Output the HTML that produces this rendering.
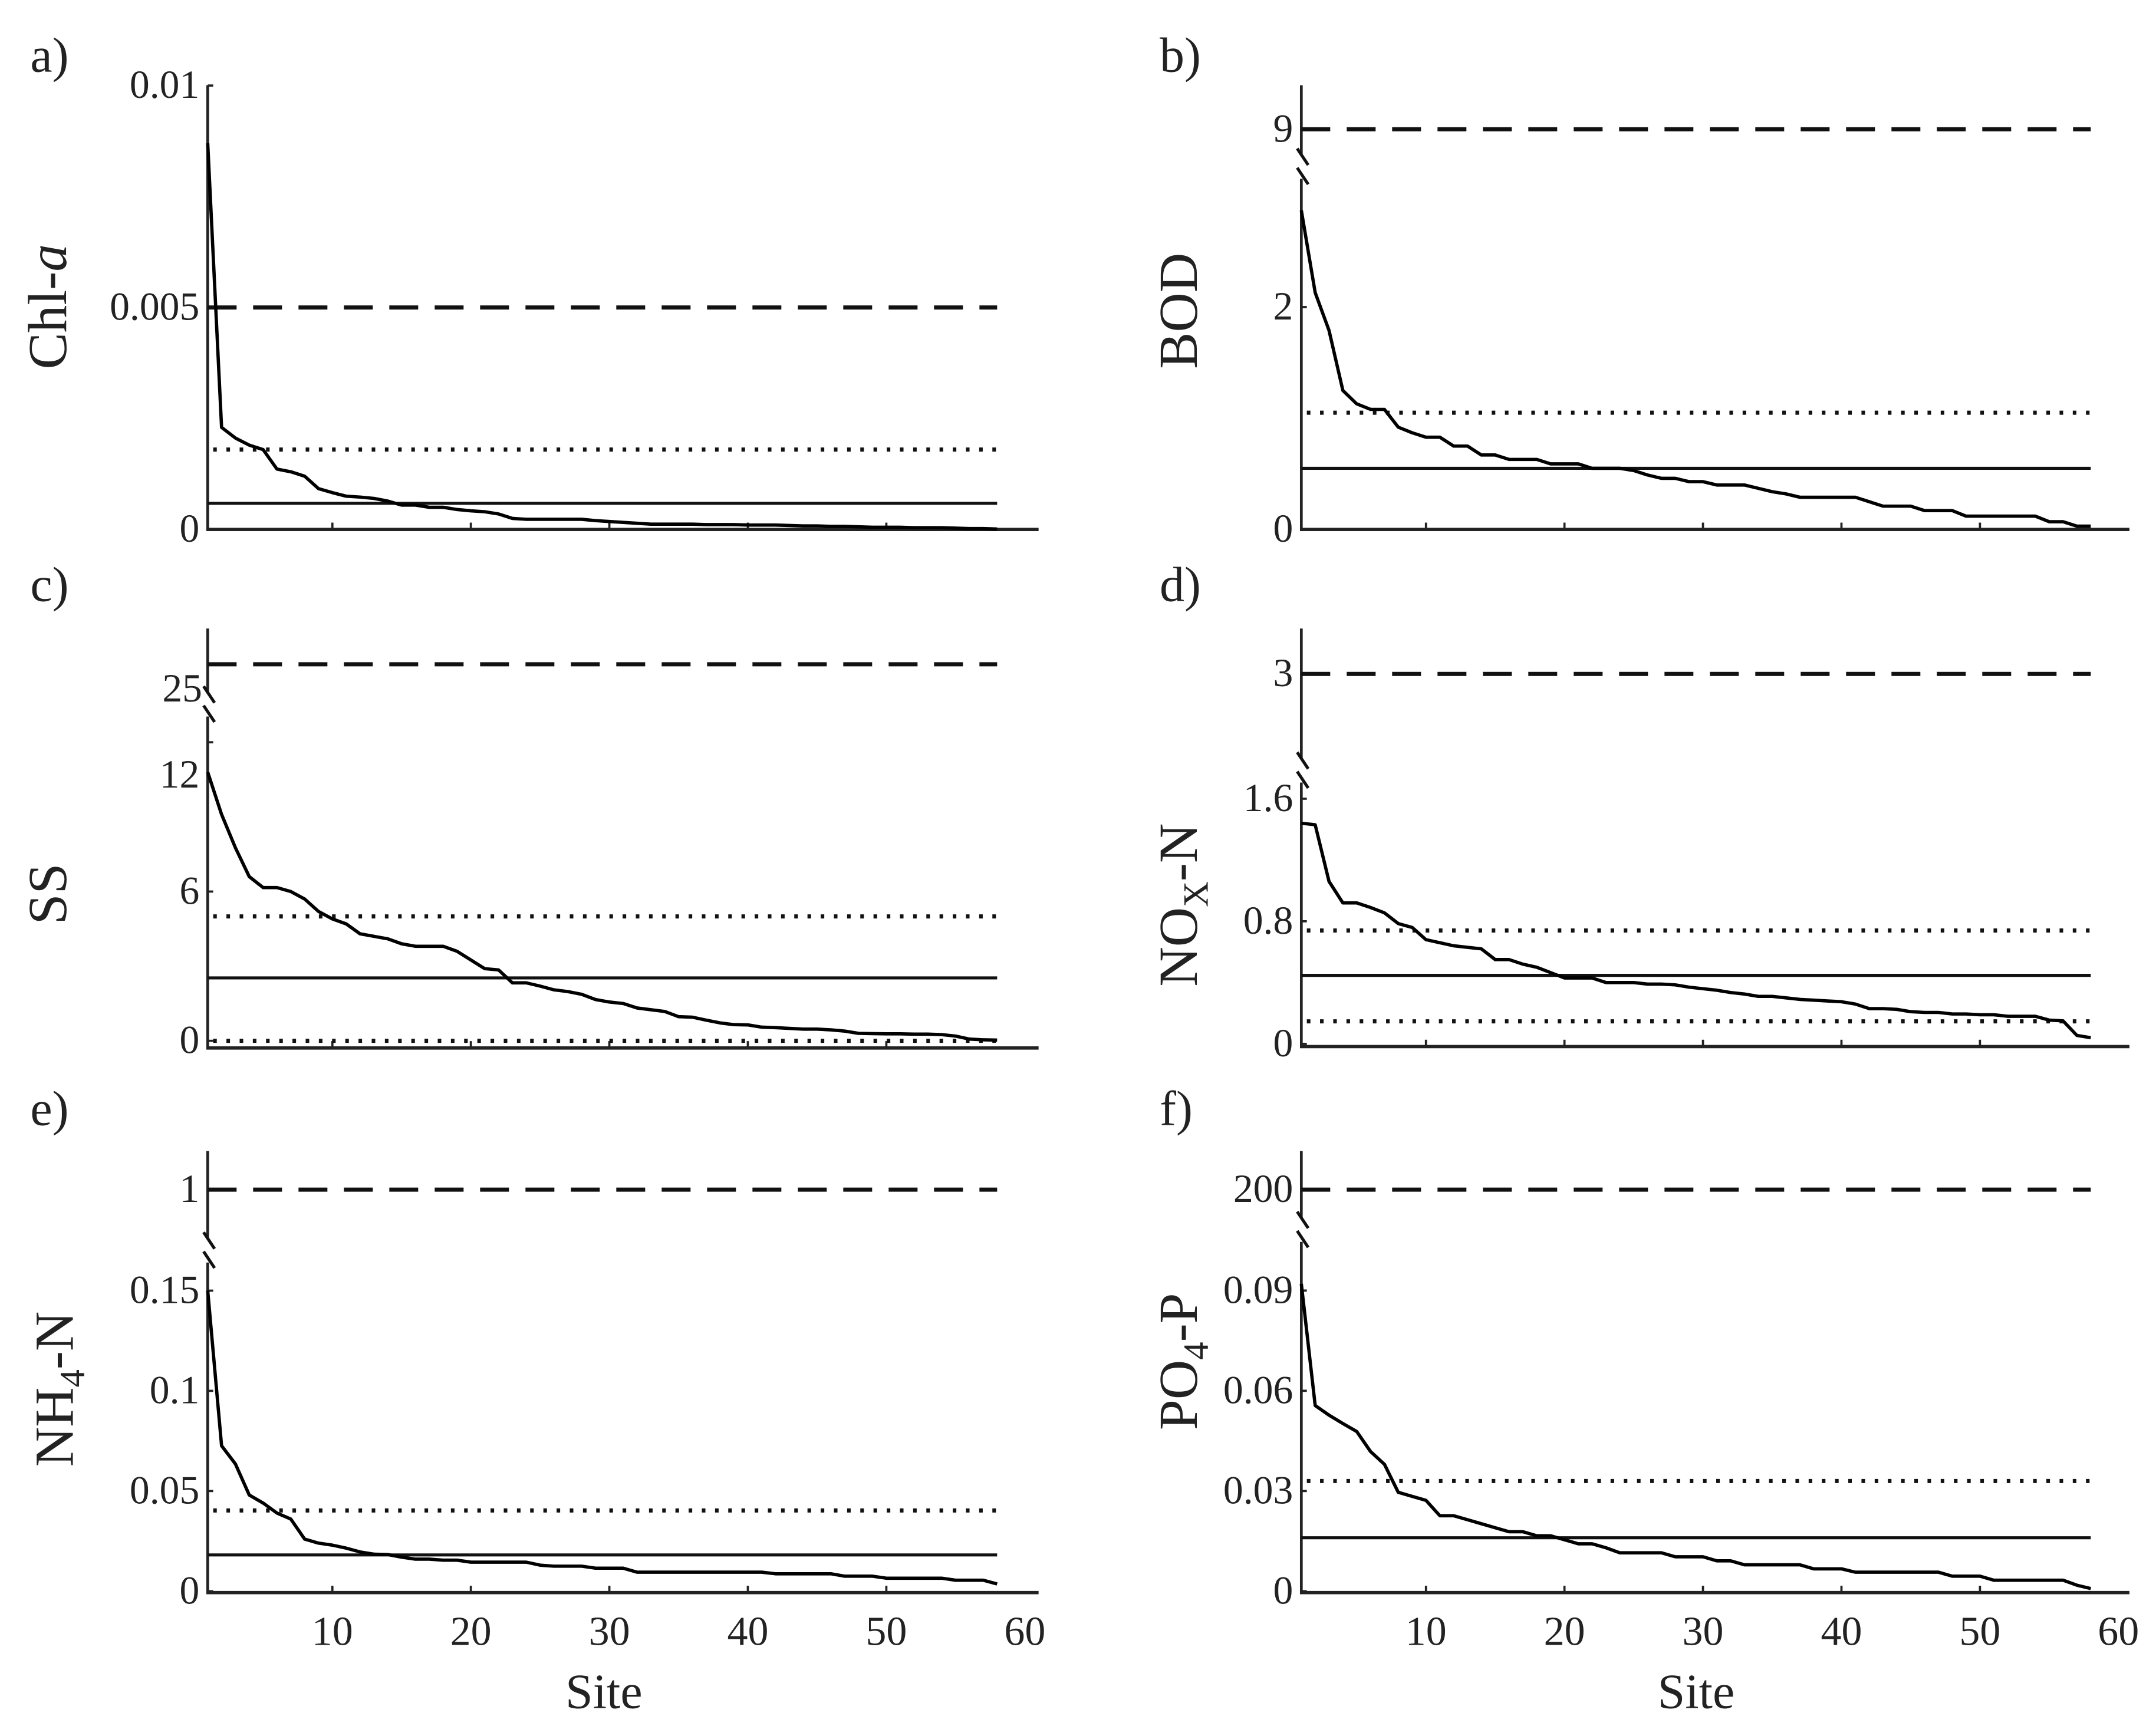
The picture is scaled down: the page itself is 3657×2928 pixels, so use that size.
<!DOCTYPE html>
<html><head><meta charset="utf-8"><style>
html,body{margin:0;padding:0;background:#fff;}
svg{display:block;}
text{font-family:"Liberation Serif",serif;fill:#222;}
</style></head><body>
<svg id="fig" xmlns="http://www.w3.org/2000/svg" width="3657" height="2928" viewBox="0 0 1567.3 1255" preserveAspectRatio="none">
<rect width="1567.3" height="1255" fill="#fff"/>
</svg>
<script>
const sites = Array.from({length:58},(_,i)=>i+1);
const xTicks = [10,20,30,40,50];
const xTickLabels = ["10","20","30","40","50","60"];
const chlValues = [0.0087,0.0023,0.00206,0.0019,0.0018,0.00136,0.0013,0.0012,0.00092,0.00083,0.00075,0.00073,0.0007,0.00064,0.00055,0.00055,0.0005,0.0005,0.00045,0.00042,0.0004,0.00035,0.00025,0.00023,0.00023,0.00023,0.00023,0.00023,0.0002,0.00018,0.00016,0.00014,0.00012,0.00012,0.00012,0.00012,0.00011,0.00011,0.00011,0.0001,0.0001,0.0001,0.00009,0.00008,0.00008,0.00007,0.00007,0.00006,0.00005,0.00005,0.00005,0.00004,0.00004,0.00004,0.00003,0.00002,0.00002,0.00001];
const bodValues = [2.87,2.13,1.79,1.25,1.13,1.08,1.08,0.92,0.87,0.83,0.83,0.75,0.75,0.67,0.67,0.63,0.63,0.63,0.59,0.59,0.59,0.55,0.55,0.55,0.53,0.49,0.46,0.46,0.43,0.43,0.40,0.40,0.40,0.37,0.34,0.32,0.29,0.29,0.29,0.29,0.29,0.25,0.21,0.21,0.21,0.17,0.17,0.17,0.12,0.12,0.12,0.12,0.12,0.12,0.07,0.07,0.03,0.03];
const ssValues = [10.8,9.1,7.76,6.6,6.16,6.16,6.0,5.7,5.2,4.9,4.7,4.3,4.2,4.1,3.9,3.8,3.8,3.8,3.6,3.25,2.9,2.85,2.33,2.33,2.2,2.05,1.98,1.87,1.66,1.56,1.5,1.32,1.25,1.18,0.97,0.95,0.83,0.72,0.65,0.64,0.55,0.53,0.5,0.47,0.47,0.44,0.39,0.3,0.29,0.28,0.28,0.27,0.27,0.25,0.19,0.07,0.04,0.03];
const noxValues = [1.44,1.43,1.06,0.92,0.92,0.89,0.855,0.785,0.76,0.68,0.66,0.64,0.63,0.62,0.55,0.55,0.52,0.5,0.465,0.43,0.43,0.43,0.4,0.4,0.4,0.39,0.39,0.385,0.37,0.36,0.35,0.335,0.325,0.31,0.31,0.3,0.29,0.285,0.28,0.275,0.26,0.23,0.23,0.225,0.21,0.205,0.205,0.195,0.195,0.19,0.19,0.18,0.18,0.18,0.155,0.15,0.055,0.04];
const nh4Values = [0.15,0.0726,0.0635,0.048,0.044,0.039,0.036,0.026,0.024,0.023,0.0215,0.0196,0.0185,0.0183,0.017,0.016,0.016,0.0155,0.0155,0.0145,0.0145,0.0145,0.0145,0.0145,0.013,0.0125,0.0125,0.0125,0.0115,0.0115,0.0115,0.0095,0.0095,0.0095,0.0095,0.0095,0.0095,0.0095,0.0095,0.0095,0.0095,0.0087,0.0087,0.0087,0.0087,0.0087,0.0075,0.0075,0.0075,0.0065,0.0065,0.0065,0.0065,0.0065,0.0055,0.0055,0.0055,0.0036];
const po4Values = [0.092,0.0556,0.0527,0.0502,0.0478,0.0418,0.038,0.0296,0.0284,0.0272,0.0226,0.0226,0.0214,0.0202,0.019,0.0178,0.0178,0.0166,0.0166,0.0154,0.0142,0.0142,0.013,0.0115,0.0115,0.0115,0.0115,0.0103,0.0103,0.0103,0.0091,0.0091,0.0079,0.0079,0.0079,0.0079,0.0079,0.0067,0.0067,0.0067,0.0057,0.0057,0.0057,0.0057,0.0057,0.0057,0.0057,0.0045,0.0045,0.0045,0.0033,0.0033,0.0033,0.0033,0.0033,0.0033,0.0018,0.0008];
const dashedValues = [0.005, 9, 26.5, 3, 1, 200];
const dottedValues = [0.0018, 1.05, 5.0, 0.74, 0.0403, 0.033];
const dottedLowValues = [null, null, 0, 0.147, null, null];
const solidValues = [0.00059, 0.55, 2.53, 0.447, 0.0181, 0.016];
const aTicks=[0,0.005,0.01], aTickLabels=["0","0.005","0.01"];
const bTicks=[0,2,9], bTickLabels=["0","2","9"];
const cTicks=[0,6,12], cTickLabels=["0","6","12"];
const dTicks=[0,0.8,1.6,3], dTickLabels=["0","0.8","1.6","3"];
const eTicks=[0,0.05,0.1,0.15,1], eTickLabels=["0","0.05","0.1","0.15","1"];
const fTicks=[0,0.03,0.06,0.09,200], fTickLabels=["0","0.03","0.06","0.09","200"];

const NS="http://www.w3.org/2000/svg";
const svg=document.getElementById('fig');
function mk(tag,attrs,parent){const e=document.createElementNS(NS,tag);for(const k in attrs)e.setAttribute(k,attrs[k]);(parent||svg).appendChild(e);return e;}

const panels=[
 {id:'a',label:'a)',ax:151,x60:745,axEnd:755,top:62,bottom:385,y0:385,ppu:32280,brk:null,vals:chlValues,ticks:aTicks,tl:aTickLabels,ylab:'Chl-',ylabI:'a',ylx:35,yly:223,lx:22,ly:52,xl:false},
 {id:'b',label:'b)',ax:946,x60:1540,axEnd:1548,top:62,bottom:385,y0:385,ppu:80.85,brk:{lim:4,uv:9,uy:94,upu:12,by:121},vals:bodValues,ticks:bTicks,tl:bTickLabels,ylab:'BOD',ylx:857,yly:226,lx:843,ly:52,xl:false},
 {id:'c',label:'c)',ax:151,x60:745,axEnd:755,top:457,bottom:762,y0:756.8,ppu:18.09,brk:{lim:20,uv:25,uy:501,upu:12,by:512},vals:ssValues,ticks:cTicks,tl:cTickLabels,ylab:'SS',ylx:35,yly:650,lx:22,ly:437,xl:false,lblOff:{"12":24}},
 {id:'d',label:'d)',ax:946,x60:1540,axEnd:1548,top:457,bottom:761,y0:759,ppu:111.4,brk:{lim:2,uv:3,uy:490,upu:30,by:560},vals:noxValues,ticks:dTicks,tl:dTickLabels,ylab:'NO',ylsub:'X',ylab2:'-N',ylx:857,yly:658,lx:843,ly:437,xl:false},
 {id:'e',label:'e)',ax:151,x60:745,axEnd:755,top:837,bottom:1158,y0:1157,ppu:1457,brk:{lim:0.5,uv:1,uy:865,upu:60,by:909},vals:nh4Values,ticks:eTicks,tl:eTickLabels,ylab:'NH',ylsub:'4',ylab2:'-N',ylx:40,yly:1010,lx:22,ly:818,xl:true},
 {id:'f',label:'f)',ax:946,x60:1540,axEnd:1548,top:837,bottom:1158,y0:1157,ppu:2429,brk:{lim:100,uv:200,uy:865,upu:0.3,by:894},vals:po4Values,ticks:fTicks,tl:fTickLabels,ylab:'PO',ylsub:'4',ylab2:'-P',ylx:857,yly:990,lx:843,ly:818,xl:true}
];

panels.forEach((p,pi)=>{
 const g=mk('g',{});
 
 
 const xs=v=>p.ax+(v-1)*(p.x60-p.ax)/59;
 const ys=v=>{ if(p.brk&&v>p.brk.lim) return p.brk.uy-(v-p.brk.uv)*p.brk.upu; return p.y0-v*p.ppu; };
 const pl=mk('text',{x:p.lx,y:p.ly,'font-size':36},g); pl.textContent=p.label;
 
 
 const ya=mk('line',{x1:p.ax,y1:p.top,x2:p.ax,y2:p.bottom,stroke:'#222','stroke-width':2},g);
 
 
 const xa=mk('line',{x1:p.ax-1,y1:p.bottom,x2:p.axEnd,y2:p.bottom,stroke:'#222','stroke-width':2.4},g);
 
 
 if(p.brk){
  mk('rect',{x:p.ax-3,y:p.brk.by-9,width:6,height:18,fill:'#fff'},g);
  [-7,7].forEach(d=>{
   const b=mk('line',{x1:p.ax-3,y1:p.brk.by+d-6,x2:p.ax+5,y2:p.brk.by+d+6,stroke:'#111','stroke-width':2.2},g);
   
   
  });
 }
 xTicks.forEach(t=>{
  const tk=mk('line',{x1:xs(t),y1:p.bottom,x2:xs(t),y2:p.bottom-5,stroke:'#222','stroke-width':1.6},g);
  
  
 });
 if(p.xl){
  [10,20,30,40,50,60].forEach((t,i)=>{
   const tx=mk('text',{x:xs(t),y:p.bottom+38,'font-size':30,'text-anchor':'middle'},g);
   tx.textContent=xTickLabels[i];
   
   
  });
  const st=mk('text',{x:(p.ax+p.axEnd)/2-14,y:p.bottom+84,'font-size':36,'text-anchor':'middle'},g);
  st.textContent='Site';
  
  
 }
 p.ticks.forEach((t,i)=>{
  const y=ys(t);
  const tk=mk('line',{x1:p.ax,y1:y,x2:p.ax+4,y2:y,stroke:'#222','stroke-width':1.6},g);
  
  
  const off=(p.lblOff&&p.lblOff[p.tl[i]])||0;
  const tx=mk('text',{x:p.ax-6,y:y+9+off,'font-size':29,'text-anchor':'end'},g);
  tx.textContent=p.tl[i];
  
  
 });
 if(p.id==='c'){
  const tx=mk('text',{x:p.ax-4,y:ys(25)+9,'font-size':29,'text-anchor':'end'},g);
  tx.textContent='25';
  
  
 }
 const yt=mk('text',{x:0,y:0,'font-size':40,'text-anchor':'middle',transform:`translate(${p.ylx+13},${p.yly}) rotate(-90)`},g);
 
 
 yt.appendChild(document.createTextNode(p.ylab));
 if(p.ylabI){const s=mk('tspan',{'font-style':'italic'},yt);s.textContent=p.ylabI;}
 if(p.ylsub){const s=mk('tspan',{'font-size':26,dy:8},yt);s.textContent=p.ylsub;const s2=mk('tspan',{dy:-8},yt);s2.textContent=p.ylab2;}
 const xEnd=xs(sites[sites.length-1]);
 const dl=mk('line',{x1:p.ax,y1:ys(dashedValues[pi]),x2:xEnd,y2:ys(dashedValues[pi]),stroke:'#111','stroke-width':3,'stroke-dasharray':'21 12'},g);
 
 
 const dt=mk('line',{x1:p.ax+4,y1:ys(dottedValues[pi]),x2:xEnd+2,y2:ys(dottedValues[pi]),stroke:'#111','stroke-width':3,'stroke-dasharray':'2.6 7'},g);
 
 
 if(dottedLowValues[pi]!==null){
  const d2=mk('line',{x1:p.ax+4,y1:ys(dottedLowValues[pi]),x2:xEnd+2,y2:ys(dottedLowValues[pi]),stroke:'#111','stroke-width':3,'stroke-dasharray':'2.6 7'},g);
  
  
 }
 const sl=mk('line',{x1:p.ax,y1:ys(solidValues[pi]),x2:xEnd,y2:ys(solidValues[pi]),stroke:'#111','stroke-width':2.2},g);
 
 
 const pts=sites.map((s,i)=>xs(s).toFixed(2)+','+ys(p.vals[i]).toFixed(2)).join(' ');
 const pl2=mk('polyline',{points:pts,fill:'none',stroke:'#000','stroke-width':2.4,'stroke-linejoin':'round'},g);
 
 
});
</script>
</body></html>
